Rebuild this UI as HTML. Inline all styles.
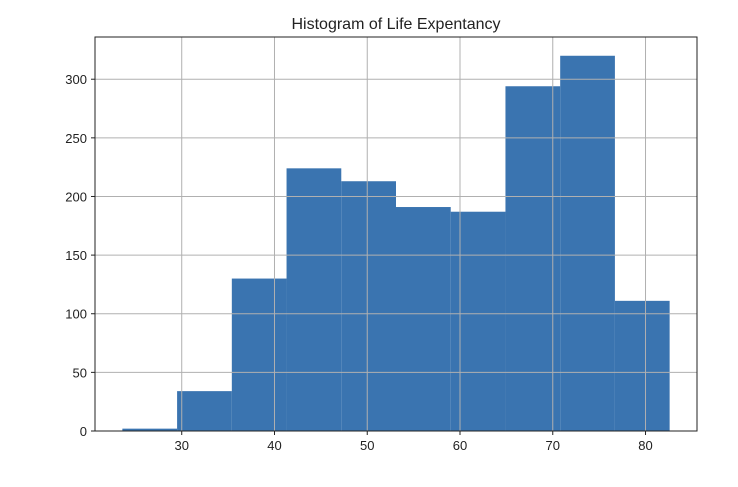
<!DOCTYPE html>
<html><head><meta charset="utf-8"><style>
body{margin:0;background:#fff;width:738px;height:482px;overflow:hidden}
text{font-family:"Liberation Sans","DejaVu Sans",sans-serif;fill:#222}
</style></head><body>
<svg id="chart" width="738" height="482"></svg>
<script>
const binEdges=[23.6,29.5,35.4,41.3,47.2,53.1,59.0,64.9,70.8,76.7,82.6];
const counts=[2,34,130,224,213,191,187,294,320,111];
const xTicks=[30,40,50,60,70,80];
const yTicks=[0,50,100,150,200,250,300];
const L=95,R=697,T=37,B=431,xMin=20.65,xMax=85.55,yMax=336;
const sx=v=>L+(v-xMin)/(xMax-xMin)*(R-L);
const sy=v=>B-v/yMax*(B-T);
const svg=document.getElementById('chart');
const NS='http://www.w3.org/2000/svg';
function mk(t,a){const e=document.createElementNS(NS,t);for(const k in a)e.setAttribute(k,a[k]);svg.appendChild(e);return e;}
counts.forEach((c,i)=>{
  const x0=sx(binEdges[i]),x1=sx(binEdges[i+1]);
  const r=mk('rect',{x:x0,y:sy(c),width:x1-x0,height:B-sy(c),fill:'#3a74b0'});
  
  
});
xTicks.forEach(v=>{
  const x=sx(v);
  const g=mk('line',{x1:x,x2:x,y1:T,y2:B,stroke:'#b0b0b0','stroke-width':1});
  
  
  mk('line',{x1:x,x2:x,y1:B,y2:B+4,stroke:'#222'});
  const t=mk('text',{x:x,y:B+19,'text-anchor':'middle','font-size':13});
  t.textContent=v;
  
  
});
yTicks.forEach(v=>{
  const y=sy(v);
  const g=mk('line',{x1:L,x2:R,y1:y,y2:y,stroke:'#b0b0b0','stroke-width':1});
  
  
  mk('line',{x1:L-4,x2:L,y1:y,y2:y,stroke:'#222'});
  const t=mk('text',{x:L-8,y:y+5,'text-anchor':'end','font-size':13});
  t.textContent=v;
  
  
});
const f=mk('rect',{x:L,y:T,width:R-L,height:B-T,fill:'none',stroke:'#222','stroke-width':1});


const ti=mk('text',{x:(L+R)/2,y:T-8,'text-anchor':'middle','font-size':16});
ti.textContent='Histogram of Life Expentancy';


</script>
</body></html>
